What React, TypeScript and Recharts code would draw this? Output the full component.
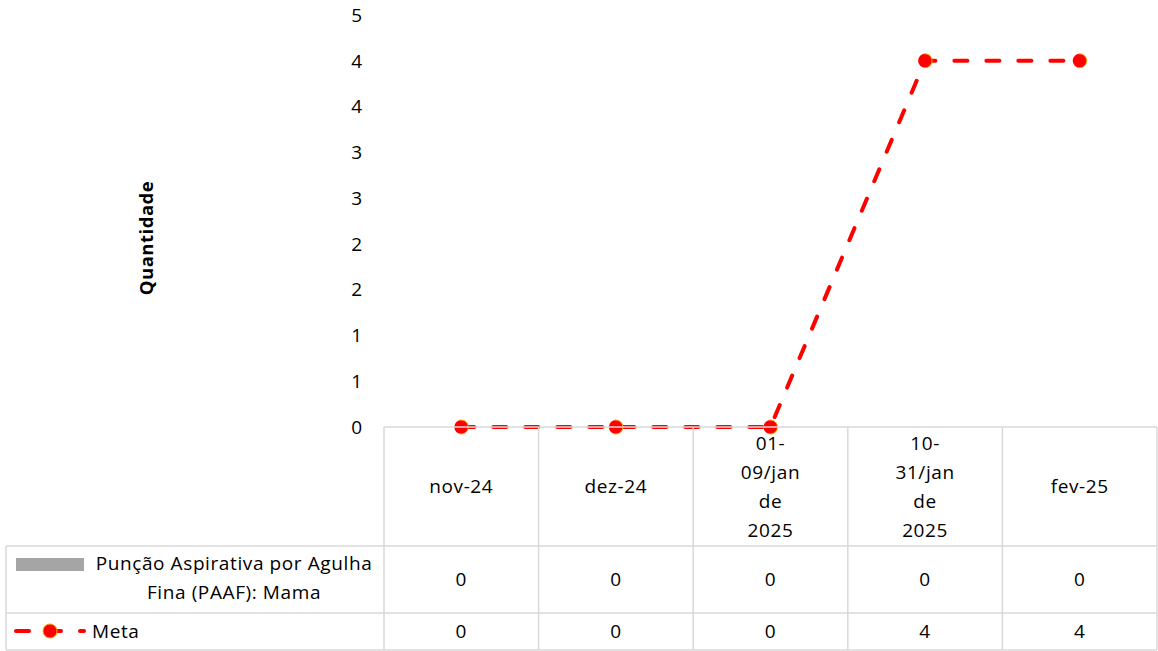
import { ComposedChart, Bar, Line, XAxis, YAxis } from "recharts";

// categorias e séries
const categories = ["nov-24", "dez-24", "01-09/jan de 2025", "10-31/jan de 2025", "fev-25"];
const paafValues = [0, 0, 0, 0, 0];
const metaValues = [0, 0, 0, 4, 4];
const yTicks = [0, 0.5, 1, 1.5, 2, 2.5, 3, 3.5, 4, 4.5];

const paafName = "Punção Aspirativa por Agulha Fina (PAAF): Mama";
const metaName = "Meta";

const data = categories.map((c, i) => ({ cat: c, paaf: paafValues[i], meta: metaValues[i] }));

const W = 1158;
const H = 651;
const Y_AXIS_W = 384;
const RIGHT = 1;
const X_AXIS_H = 224;
const BAND = (W - Y_AXIS_W - RIGHT) / categories.length;
const FONT = "'Open Sans', sans-serif";
const FS = 19;
const LS = 0.6;
const GRID = "#D9D9D9";

// linhas do rótulo quebrado (como o Excel faz)
const wrap = (s: string) => (s.length > 7 ? s.split(/(?<=-)|\s/) : [s]);

const TableTick = (props: any) => {
  const { x, y, payload, index } = props;
  const left = x - BAND / 2;
  const right = x + BAND / 2;
  const r1 = y + 119;
  const r2 = y + 186;
  const r3 = y + 223;
  const lines = wrap(payload.value);
  const lh = 29;
  const start = y + 59.5 - ((lines.length - 1) * lh) / 2;
  return (
    <g fontFamily={FONT} fontSize={FS} letterSpacing={LS} fill="#000">
      <line x1={left} x2={right} y1={y} y2={y} stroke={GRID} strokeWidth={1.5} />
      <line x1={left} x2={right} y1={r1} y2={r1} stroke={GRID} strokeWidth={1.5} />
      <line x1={left} x2={right} y1={r2} y2={r2} stroke={GRID} strokeWidth={1.5} />
      <line x1={left} x2={right} y1={r3} y2={r3} stroke={GRID} strokeWidth={1.5} />
      <line x1={right} x2={right} y1={y} y2={r3} stroke={GRID} strokeWidth={1.5} />
      {index === 0 && (
        <g>
          <line x1={left} x2={left} y1={y} y2={r3} stroke={GRID} strokeWidth={1.5} />
          <line x1={6} x2={left} y1={r1} y2={r1} stroke={GRID} strokeWidth={1.5} />
          <line x1={6} x2={left} y1={r2} y2={r2} stroke={GRID} strokeWidth={1.5} />
          <line x1={6} x2={left} y1={r3} y2={r3} stroke={GRID} strokeWidth={1.5} />
          <line x1={6} x2={6} y1={r1} y2={r3} stroke={GRID} strokeWidth={1.5} />
          <rect x={16} y={r1 + 12} width={68} height={13} fill="#A5A5A5" />
          <text x={234} y={r1 + 17} dy="0.35em" textAnchor="middle">
            Punção Aspirativa por Agulha
          </text>
          <text x={234} y={r1 + 46} dy="0.35em" textAnchor="middle">
            Fina (PAAF): Mama
          </text>
          <line
            x1={16}
            x2={84}
            y1={r2 + 18}
            y2={r2 + 18}
            stroke="#FF0000"
            strokeWidth={4}
            strokeDasharray="13 19"
            strokeLinecap="round"
          />
          <circle cx={50} cy={r2 + 18} r={7} fill="#FF0000" stroke="#FFA200" strokeWidth={1} />
          <text x={92} y={r2 + 18} dy="0.35em">
            {metaName}
          </text>
        </g>
      )}
      {lines.map((l: string, i: number) => (
        <text key={i} x={x} y={start + i * lh} dy="0.35em" textAnchor="middle">
          {l}
        </text>
      ))}
      <text x={x} y={y + 152.5} dy="0.35em" textAnchor="middle">
        {paafValues[index]}
      </text>
      <text x={x} y={y + 204.5} dy="0.35em" textAnchor="middle">
        {metaValues[index]}
      </text>
    </g>
  );
};

export default function App() {
  return (
    <div style={{ position: "absolute", left: 0, top: 0, background: "#fff" }}>
      <ComposedChart
        width={W}
        height={H}
        data={data}
        margin={{ top: 15, right: RIGHT, bottom: 0, left: 0 }}
      >
        <XAxis
          dataKey="cat"
          height={X_AXIS_H}
          interval={0}
          axisLine={false}
          tickLine={false}
          tickSize={0}
          tickMargin={0}
          tick={<TableTick />}
        />
        <YAxis
          width={Y_AXIS_W}
          domain={[0, 4.5]}
          ticks={yTicks}
          tickFormatter={(v: number) => String(Math.round(v))}
          axisLine={false}
          tickLine={false}
          tickMargin={16}
          tick={{ fill: "#000", fontSize: FS, fontFamily: FONT }}
          label={() => (
            <text
              x={147}
              y={238}
              transform="rotate(-90 147 238)"
              textAnchor="middle"
              dy="0.35em"
              fontFamily={FONT}
              fontSize={18.5}
              letterSpacing={0.5}
              fontWeight="bold"
              fill="#000"
            >
              Quantidade
            </text>
          )}
        />
        <Bar dataKey="paaf" name={paafName} fill="#A5A5A5" isAnimationActive={false} />
        <Line
          dataKey="meta"
          name={metaName}
          type="linear"
          stroke="#FF0000"
          strokeWidth={4}
          strokeDasharray="13 19"
          strokeLinecap="round"
          dot={{ r: 7, fill: "#FF0000", stroke: "#FFA200", strokeWidth: 1 }}
          isAnimationActive={false}
        />
      </ComposedChart>
    </div>
  );
}
